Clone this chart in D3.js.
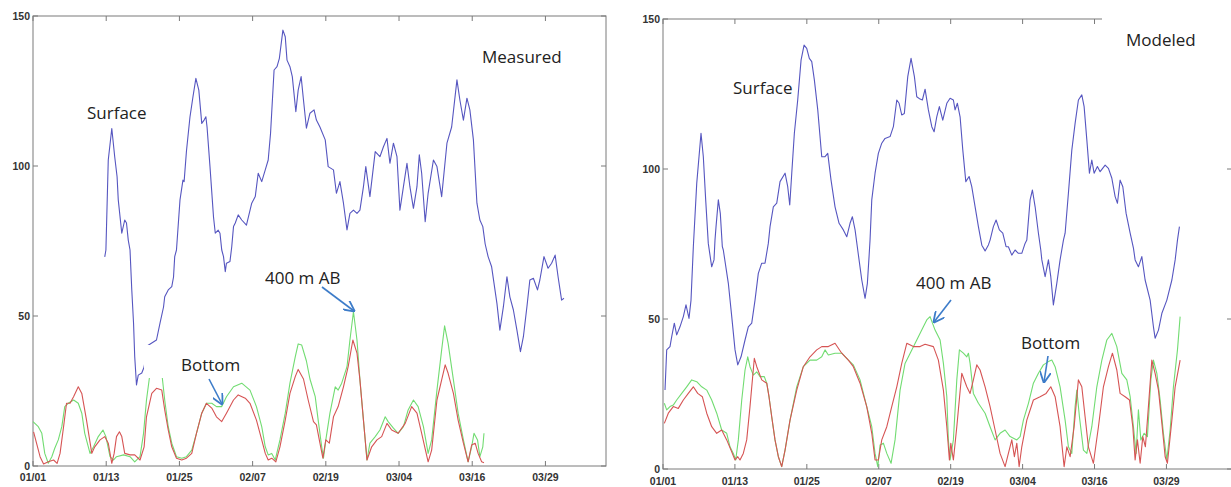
<!DOCTYPE html>
<html>
<head>
<meta charset="utf-8">
<script src="https://cdn.jsdelivr.net/npm/d3@7"></script>
<style>
  body { margin: 0; background: #fff; }
  .tick-label { font-family: "Liberation Sans", Arial, sans-serif; font-size: 10.5px; font-weight: bold; fill: #333; }
  .note { font-family: "Open Sans", "Noto Sans", sans-serif; font-size: 17px; fill: #222; }
</style>
</head>
<body>
<svg width="1231" height="487"></svg>
<script>
// day-of-year (0 = 01/01) tick positions and labels, shared by both panels
const tickDays = [0, 12.45, 24.9, 37.35, 49.8, 62.25, 74.7, 87.15];
const tickLabels = ["01/01", "01/13", "01/25", "02/07", "02/19", "03/04", "03/16", "03/29"];
const yTicks = [0, 50, 100, 150];

// ---- Measured: [day, value]
const measSurface = [
  [12.2,69.7],[12.4,72],[12.8,102],[13.4,112.5],[13.9,103],[14.3,96.4],[14.5,88.7],[15.1,77.6],[15.6,82],[15.9,81],
  [16.2,75.3],[16.5,72],[16.8,58.7],[17.1,47.6],[17.3,36.4],[17.6,27],[17.9,30.3],[18.5,31],[18.9,33],[19.4,40],
  [21.0,42],[21.6,47.6],[22.2,53],[22.4,56.4],[23.0,58.7],[23.6,59.8],[23.9,63],[24.1,69.8],[24.4,72],[25.0,88.7],
  [25.5,95.3],[25.7,94.8],[26.1,105],[26.7,116.4],[27.2,123],[27.7,129.2],[28.2,125.3],[28.7,114.2],[29.1,115.3],[29.4,116.4],
  [29.6,113],[30.1,99.8],[30.7,83],[31.0,77.6],[31.5,78.6],[31.8,77.6],[32.1,72],[32.4,69.8],[32.7,64.8],[32.9,67.6],
  [33.5,68.2],[33.8,73.1],[34.1,79.8],[34.4,81],[34.9,83.7],[35.5,82],[36.3,80.3],[37.2,87.6],[37.8,89.8],[38.3,97.6],
  [38.9,94.8],[39.5,98.7],[40.0,102],[40.4,110.9],[41.0,132],[41.5,133.1],[41.9,135.9],[42.5,145.3],[42.9,143.1],[43.2,135.3],
  [43.7,133.1],[44.1,129.8],[44.7,118.1],[45.1,125.3],[45.6,129.8],[46.0,122],[46.5,112.6],[47.1,117.6],[47.8,118.7],[48.2,115.3],
  [48.8,113],[49.7,108.7],[50.2,99.8],[51.1,98.7],[51.6,90.9],[52.2,94.8],[52.8,87.6],[53.4,78.7],[53.9,84.2],[54.5,85.3],
  [55.1,84.2],[55.6,85.3],[56.2,93.1],[56.6,99.8],[57.3,89.8],[58.2,104.8],[59.0,103.1],[59.6,106.4],[60.2,109.2],[60.7,100.9],
  [61.3,107.6],[61.9,103.1],[62.4,85.3],[63.0,93.1],[63.6,100.9],[64.1,93.1],[64.7,85.9],[65.3,93.1],[65.7,103.7],[66.1,97.6],
  [66.7,81.4],[67.2,90.9],[68.1,102],[68.7,99.8],[69.5,89.8],[70.4,107.6],[71.2,113],[72.1,128.7],[72.6,122],[73.2,115.3],
  [73.8,122.6],[74.3,118.7],[74.9,108.7],[75.5,87.6],[76.0,82],[76.5,79.8],[76.9,74],[77.4,69.8],[78.0,66.4],[78.9,54.2],
  [79.4,45.3],[80.0,53.1],[80.6,63.1],[81.1,56.4],[81.7,52],[82.3,45.3],[82.9,38.1],[83.4,43.1],[84.0,53.1],[84.5,62],
  [85.1,62.6],[85.8,58.7],[86.2,62],[86.9,69.8],[87.6,65.9],[88.2,67.6],[88.8,70.3],[89.3,63.1],[89.9,55.3],[90.3,55.9]
];
const meas400 = [
  [0.0,14.8],[0.9,13.1],[1.5,10.9],[2.0,4.2],[2.6,0.9],[3.2,3.1],[3.7,5.9],[4.3,8.7],[4.9,13.1],[5.4,19.8],
  [6.0,20.9],[6.9,22],[7.7,20.9],[8.3,17.6],[8.8,10.9],[9.7,4.2],[10.3,6.4],[11.1,9.8],[11.9,12],[12.4,9.8],
  [13.1,3.1],[13.7,2],[14.2,3.1],[15.4,3.7],[16.5,3.1],[17.3,1.4],[18.2,3.1],[18.8,10.9],[19.3,22],[19.9,30.9],
  [20.7,34],[21.9,31],[22.4,22],[23.0,13.1],[23.6,7.6],[24.4,3.1],[25.3,2.6],[26.1,3.1],[27.0,5.3],[27.8,10.9],
  [28.7,17.6],[29.5,20.9],[30.4,20.9],[31.2,19.8],[32.1,19.8],[32.9,23.1],[34.1,26.4],[35.5,27.6],[36.9,25.3],[38.0,19.8],
  [38.9,13.1],[39.5,6.4],[40.0,3.7],[40.6,4.2],[41.2,2],[42.0,8.7],[42.9,17.6],[43.7,27.6],[44.6,36.4],[45.1,40.7],
  [45.7,40.3],[46.5,35],[47.1,29],[48.0,23.1],[48.5,15.3],[49.1,6.4],[49.4,2.6],[49.8,8.7],[50.5,17.6],[51.4,26.4],
  [51.9,25.3],[52.5,27.6],[53.4,33.1],[53.9,42],[54.5,51.4],[55.1,42],[55.6,28.7],[56.2,15.3],[56.8,2],[57.3,7.6],
  [58.2,9.8],[59.0,12],[59.9,16.4],[60.4,14.8],[61.3,12.6],[62.1,10.9],[63.0,13.1],[63.8,18.7],[64.7,22],[65.5,19.8],
  [66.4,13.1],[67.2,4.2],[67.8,8.7],[68.7,25.3],[69.5,38.7],[70.0,46.7],[70.6,40.9],[71.5,28.7],[72.3,17.6],[73.2,8.7],
  [74.0,1.4],[74.6,6.4],[75.0,10.9],[75.6,8.7],[76.0,3.1],[76.5,6.4],[76.7,10.9]
];
const measBottom = [
  [0.1,11.4],[0.6,7.6],[1.2,3.1],[1.8,0.7],[2.6,1.4],[3.5,2],[4.1,0.9],[4.6,4.2],[5.2,13.1],[5.7,20.9],
  [6.3,20.9],[6.9,23.1],[7.7,26.4],[8.3,24.2],[9.1,15.3],[10.0,4.2],[10.5,6.4],[11.4,8.7],[12.2,9.8],[12.8,7.6],
  [13.4,0.9],[13.8,4.2],[14.2,9.8],[14.7,11.4],[15.1,9.8],[15.6,4.2],[16.5,3.7],[17.3,3.7],[18.2,2],[18.9,6.4],
  [19.3,16.4],[20.2,24.2],[21.0,25.9],[21.9,25.3],[22.4,18.7],[23.0,12],[23.6,6.4],[24.4,2.6],[25.3,2],[26.1,2.6],
  [27.0,4.2],[27.8,10.9],[28.7,17.6],[29.5,20.9],[30.4,19.3],[31.2,16.4],[32.1,14.8],[32.9,17.6],[34.1,22],[34.9,23.7],
  [36.1,22.6],[36.9,20.9],[38.0,15.3],[38.9,8.7],[39.5,4.2],[40.0,2],[40.6,2.6],[41.3,1.4],[42.0,6.4],[42.9,15.3],
  [43.7,24.2],[44.6,29.8],[45.1,32.2],[46.0,29],[46.8,22],[47.7,14.8],[48.2,13.7],[48.8,7.6],[49.3,2.6],[49.8,8.7],
  [50.4,7.6],[51.1,16.4],[51.9,19.8],[52.8,26.4],[53.6,33.1],[54.4,42],[55.1,37.6],[55.6,28.7],[56.2,15.3],[56.8,2],
  [57.6,6.4],[58.5,8.7],[59.3,9.8],[60.2,14.2],[61.0,12],[62.1,10.9],[63.3,14.2],[64.4,19.8],[65.3,17.6],[66.1,10.9],
  [67.2,1.4],[67.8,5.3],[68.7,22],[69.5,28.7],[70.1,33.7],[70.6,30.9],[71.5,24.2],[72.3,15.3],[73.2,7.6],[74.0,1.4],
  [74.6,7],[75.2,7.6],[75.7,4.2],[76.3,1.4],[76.7,1.1]
];

// ---- Modeled: [day, value]
const modSurface = [
  [0.35,26.3],[0.64,39.7],[1.21,40.8],[1.51,44.1],[1.96,48.6],[2.37,44.7],[2.94,47.4],[3.52,50.8],[3.98,54.7],[4.50,50.2],
  [4.85,56.3],[5.25,74],[5.84,95.2],[6.58,111.9],[6.98,104.1],[7.39,89.7],[7.84,75.2],[8.43,67.4],[8.83,69.7],[9.00,76.3],
  [9.18,80.8],[9.58,89.7],[9.92,85.2],[10.27,74.1],[10.44,73],[11.31,61.9],[11.90,50.8],[12.47,39.7],[12.94,34.7],[13.51,37.4],
  [14.20,43],[14.77,47.4],[15.36,48.6],[15.93,56.3],[16.50,65.2],[17.09,68.6],[17.66,68.6],[18.23,75.2],[18.53,80.8],[19.10,87.4],
  [19.69,88.6],[20.26,95.8],[21.13,98.6],[21.59,94.1],[21.94,88],[22.29,98.6],[22.74,111.9],[23.32,123],[23.90,136.3],[24.42,141.3],
  [24.88,140.2],[25.33,136.9],[25.75,135.8],[26.20,129.7],[26.79,119.7],[27.48,104.1],[28.05,104.1],[28.52,105.2],[29.09,96.3],[29.78,87.4],
  [30.48,81.9],[31.22,79.7],[31.81,77.4],[32.38,81.9],[32.78,84.1],[33.25,79.7],[33.71,73],[34.41,63],[34.98,56.9],[35.38,61.9],
  [35.67,70.8],[35.84,76.3],[36.14,89.7],[36.71,98.6],[37.28,105.2],[37.87,108.6],[38.44,110.2],[39.31,110.8],[39.88,114.1],[40.47,123],
  [40.87,121.9],[41.33,118],[41.78,118.5],[42.37,130.8],[42.94,136.9],[43.52,130.8],[43.93,124.1],[44.50,123.3],[44.90,123],[45.37,126.6],
  [45.94,119.7],[46.53,114.1],[46.93,112.4],[47.39,117.4],[47.84,120.8],[48.43,116.3],[49.13,121.9],[49.70,123.6],[50.27,123],[50.56,119.7],
  [50.96,121.9],[51.43,117.4],[51.90,106.3],[52.42,95.8],[52.99,97.5],[53.45,94.1],[54.03,87.4],[54.60,80.8],[55.19,74.6],[55.76,72.7],
  [56.33,74.7],[56.62,76.3],[57.19,80.8],[57.66,83],[58.23,79.7],[58.82,78.6],[59.39,74.1],[59.79,74.1],[60.38,71.3],[60.95,73],
  [61.52,71.9],[62.11,71.9],[62.68,75.2],[62.98,76.3],[63.55,89.7],[63.95,93],[64.42,87.4],[64.99,78.6],[65.40,73],[65.58,69.7],
  [66.15,64.1],[66.72,69.7],[67.13,64.1],[67.58,54.7],[68.17,61.9],[68.74,69.7],[69.32,76.3],[69.61,78.6],[70.18,91.9],[70.77,106.3],
  [71.34,115.2],[71.91,123],[72.50,124.7],[72.90,120.8],[73.37,109.7],[73.82,98.6],[74.23,103],[74.63,98.6],[75.20,100.8],[75.67,99.1],
  [76.54,101.3],[77.11,100.2],[77.70,96.9],[78.27,90.8],[78.67,88.6],[79.13,96.3],[79.60,94.1],[80.17,85.2],[80.87,78.6],[81.44,73.6],
  [81.73,69.7],[82.30,67.4],[82.89,70.8],[83.46,63],[84.33,56.3],[84.90,47.4],[85.19,43.6],[85.77,46.3],[86.36,51.9],[87.22,56.3],
  [88.09,63],[88.66,69.7],[89.06,76.3],[89.40,80.8]
];
const mod400 = [
  [0.23,21.9],[0.64,19.7],[1.21,20.8],[1.78,21.3],[2.37,23],[3.24,25.2],[4.10,27.4],[4.97,29.7],[5.84,29.1],[6.70,27.4],
  [7.57,26.3],[8.43,23],[9.30,18.6],[10.16,13],[11.03,11.9],[11.60,7.4],[12.17,5.2],[12.59,3],[13.04,9.7],[13.63,23],
  [14.20,33],[14.67,37.4],[15.06,34.1],[15.64,31.3],[16.23,32.4],[16.80,30.8],[17.54,30.8],[17.96,28.6],[18.35,24.1],[18.82,17.4],
  [19.39,9.7],[19.97,4.1],[20.55,0.8],[21.13,6.3],[21.99,16.3],[23.15,27.4],[24.29,34.1],[25.45,36.3],[26.61,36.3],[27.48,37.4],
  [28.05,39.7],[28.62,38],[29.78,38.6],[30.94,38.6],[32.09,36.3],[32.95,34.7],[34.11,29.7],[35.27,20.8],[36.14,14.1],[36.71,5.2],
  [37.18,0.8],[37.58,8],[38.15,8.6],[38.74,5.2],[39.48,1.9],[40.17,9.7],[41.04,26.3],[41.90,35.2],[43.07,39.7],[44.21,44.1],
  [45.07,47.4],[45.66,49.7],[46.23,50.8],[47.10,46.3],[47.97,43],[48.54,35.2],[49.13,24.1],[49.40,9.7],[49.70,3],[50.27,9.7],
  [50.86,29.7],[51.31,39.7],[52.00,38.6],[52.59,37.4],[52.87,38.6],[53.16,35.2],[53.73,25.2],[54.60,21.9],[55.76,18.6],[56.62,14.1],
  [57.49,9.7],[58.35,11.9],[59.22,13],[60.09,10.8],[61.25,9.7],[61.82,10.8],[62.39,16.3],[63.26,21.9],[64.12,28.6],[64.99,31.9],
  [65.85,34.7],[66.72,35.8],[67.31,36.3],[67.88,34.1],[68.74,27.4],[69.61,16.3],[70.18,7.4],[70.77,5.2],[71.34,20.8],[71.64,26.3],
  [72.09,17.4],[72.78,6.3],[73.37,5.2],[74.23,14.1],[75.10,27.4],[75.97,36.3],[76.83,43],[77.70,45.2],[78.56,40.8],[79.43,31.9],
  [80.29,29.7],[80.87,24.1],[81.44,14.1],[81.90,5.2],[82.30,19.7],[82.72,9.7],[83.29,11.9],[83.86,10.8],[84.45,29.7],[84.90,36.3],
  [85.49,31.9],[86.06,23],[86.63,11.9],[87.22,3],[87.79,13],[88.36,27.4],[89.06,39.7],[89.52,50.8]
];
const modBottom = [
  [0.23,15.2],[0.92,18.6],[1.78,20.8],[2.65,20.2],[3.52,23],[4.38,25.2],[5.25,27.4],[6.01,25.2],[6.81,24.1],[7.57,18.6],
  [8.43,14.1],[9.30,11.9],[10.16,13],[11.03,9.7],[11.77,6.3],[12.47,3],[12.94,4.1],[13.33,3],[13.90,5.2],[14.49,9.7],
  [15.06,20.8],[15.81,36.9],[16.23,34.1],[17.09,29.7],[17.96,28.6],[18.35,24.1],[18.82,17.4],[19.39,9.7],[19.97,4.1],[20.55,0.8],
  [21.13,6.3],[21.99,16.3],[23.15,26.3],[24.29,34.1],[25.45,37.4],[26.61,39.7],[27.48,40.8],[28.62,40.8],[29.78,41.9],[30.94,38.6],
  [32.09,36.3],[32.95,34.1],[34.11,28.6],[35.27,20.8],[36.14,11.9],[36.71,3],[37.28,3],[37.87,9.7],[38.74,14.1],[39.60,20.8],
  [40.47,27.4],[41.33,35.2],[42.20,41.9],[43.34,40.8],[44.50,40.8],[45.37,41.6],[46.81,40.8],[47.67,36.3],[48.54,26.3],[49.13,14.1],
  [49.58,3],[49.82,8.6],[50.27,3],[50.86,14.1],[51.72,31.9],[52.59,27.4],[53.16,25.2],[53.73,29.7],[54.32,34.7],[54.89,33],
  [55.76,27.4],[56.62,20.8],[57.49,13],[58.35,5.2],[59.22,0.8],[59.79,5.2],[60.38,9.7],[60.83,4.1],[61.25,8.6],[61.65,0.8],
  [62.11,7.4],[62.98,16.3],[64.12,23],[65.28,24.1],[66.32,25.2],[67.13,27.4],[67.88,24.1],[68.74,14.1],[69.44,0.8],[69.91,7.4],
  [70.48,4.1],[71.17,14.1],[71.91,29.7],[72.50,27.4],[73.07,17.4],[73.64,7.4],[74.51,1.9],[75.38,14.1],[76.24,27.4],[77.11,34.1],
  [77.80,38.6],[78.56,33],[79.13,25.2],[80.00,24.1],[80.75,23],[81.33,14.1],[81.73,3],[82.13,9.7],[82.60,1.9],[83.06,10.8],
  [83.51,7.4],[84.03,20.8],[84.62,36.3],[85.19,31.9],[85.77,26.3],[86.36,15.2],[86.93,4.1],[87.32,1.9],[88.09,16.3],[88.66,27.4],
  [89.52,36.3]
];

const colors = { surface: "#5656c0", ab400: "#72dc72", bottom: "#d65454", arrow: "#3d7cc9", frame: "#7a7a7a" };

const svg = d3.select("svg");
svg.append("defs").append("marker")
  .attr("id", "arrowhead")
  .attr("viewBox", "0 0 10 10")
  .attr("refX", 9).attr("refY", 5)
  .attr("markerWidth", 7).attr("markerHeight", 7)
  .attr("orient", "auto")
  .append("path")
  .attr("d", "M0,0 L10,5 L0,10")
  .attr("fill", "none")
  .attr("stroke", colors.arrow)
  .attr("stroke-width", 1.6);

const panel = (selection, props) => {
  const { left, right, top, bottom, maxDay, surface, ab400, bottomSeries, labelDy, notes, masks } = props;

  const xScale = d3.scaleLinear().domain([0, maxDay]).range([left, right]);
  const yScale = d3.scaleLinear().domain([0, 150]).range([bottom, top]);

  const line = d3.line()
    .x(d => xScale(d[0]))
    .y(d => yScale(d[1]));

  const g = selection.append("g");

  // frame
  g.append("rect")
    .attr("x", left).attr("y", top)
    .attr("width", right - left).attr("height", bottom - top)
    .attr("fill", "none")
    .attr("stroke", colors.frame)
    .attr("stroke-width", 1);

  // inward ticks on all four sides
  tickDays.forEach(t => {
    g.append("line")
      .attr("x1", xScale(t)).attr("x2", xScale(t))
      .attr("y1", bottom).attr("y2", bottom - 5)
      .attr("stroke", colors.frame);
    g.append("line")
      .attr("x1", xScale(t)).attr("x2", xScale(t))
      .attr("y1", top).attr("y2", top + 5)
      .attr("stroke", colors.frame);
  });
  yTicks.forEach(v => {
    g.append("line")
      .attr("x1", left).attr("x2", left + 5)
      .attr("y1", yScale(v)).attr("y2", yScale(v))
      .attr("stroke", colors.frame);
    g.append("line")
      .attr("x1", right).attr("x2", right - 5)
      .attr("y1", yScale(v)).attr("y2", yScale(v))
      .attr("stroke", colors.frame);
  });

  g.selectAll(".xlab").data(tickLabels).enter()
    .append("text")
    .attr("class", "tick-label")
    .attr("x", (d, i) => xScale(tickDays[i]))
    .attr("y", bottom + labelDy)
    .attr("text-anchor", "middle")
    .text(d => d);

  g.selectAll(".ylab").data(yTicks).enter()
    .append("text")
    .attr("class", "tick-label")
    .attr("x", left - 3)
    .attr("y", d => yScale(d))
    .attr("dy", "0.35em")
    .attr("text-anchor", "end")
    .text(d => d);

  // series
  [[surface, colors.surface], [ab400, colors.ab400], [bottomSeries, colors.bottom]].forEach(([data, c]) => {
    g.append("path")
      .datum(data)
      .attr("d", line)
      .attr("fill", "none")
      .attr("stroke", c)
      .attr("stroke-width", 1.1)
      .attr("stroke-linejoin", "round");
  });

  // white label boxes that sit on top of the plot
  masks.forEach(m => {
    g.append("rect")
      .attr("x", m.x).attr("y", m.y)
      .attr("width", m.w).attr("height", m.h)
      .attr("fill", "#fff");
  });

  notes.forEach(n => {
    g.append("text")
      .attr("class", "note")
      .attr("x", n.x).attr("y", n.y)
      .attr("font-size", n.size || 17)
      .text(n.text);
    if (n.arrow) {
      g.append("line")
        .attr("x1", n.arrow[0]).attr("y1", n.arrow[1])
        .attr("x2", n.arrow[2]).attr("y2", n.arrow[3])
        .attr("stroke", colors.arrow)
        .attr("stroke-width", 1.6)
        .attr("marker-end", "url(#arrowhead)");
    }
  });
};

svg.call(panel, {
  left: 33, right: 606, top: 16, bottom: 466, maxDay: 97.45,
  surface: measSurface, ab400: meas400, bottomSeries: measBottom,
  labelDy: 15,
  masks: [{ x: 144, y: 345, w: 106, h: 33 }],
  notes: [
    { text: "Surface", x: 87, y: 119 },
    { text: "Measured", x: 482, y: 63, size: 23 },
    { text: "400 m AB", x: 265, y: 284, arrow: [322, 287, 354, 311] },
    { text: "Bottom", x: 181, y: 371, arrow: [209, 379, 222, 404] }
  ]
});

svg.call(panel, {
  left: 663, right: 1232, top: 19, bottom: 469, maxDay: 98.5,
  surface: modSurface, ab400: mod400, bottomSeries: modBottom,
  labelDy: 16,
  masks: [{ x: 1102, y: 0, w: 129, h: 60 }],
  notes: [
    { text: "Surface", x: 733, y: 94 },
    { text: "Modeled", x: 1126, y: 46, size: 23 },
    { text: "400 m AB", x: 916, y: 289, arrow: [951, 300, 934, 322] },
    { text: "Bottom", x: 1021, y: 349, arrow: [1048, 356, 1044, 382] }
  ]
});
</script>
</body>
</html>
